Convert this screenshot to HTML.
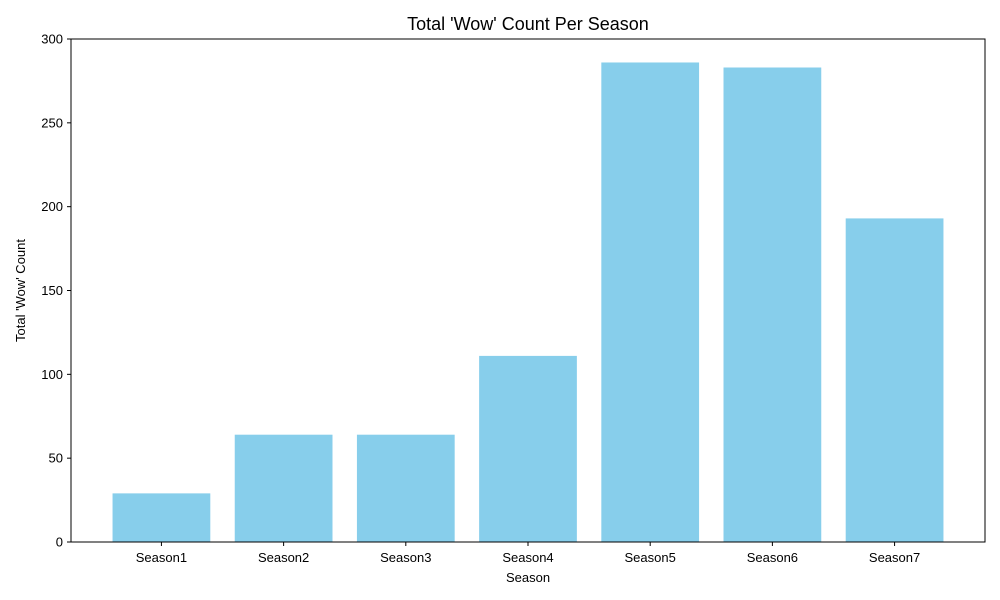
<!DOCTYPE html>
<html>
<head>
<meta charset="utf-8">
<style>
  body { margin: 0; background: #fff; }
  svg { display: block; font-family: "Liberation Sans", "DejaVu Sans", sans-serif; }
</style>
</head>
<body>
<svg id="chart" width="1000" height="600" viewBox="0 0 1000 600">
  <rect width="1000" height="600" fill="#ffffff"/>
  <text x="528" y="30" text-anchor="middle" font-size="18" fill="#000">Total 'Wow' Count Per Season</text>
  <g id="bars"></g>
  <g id="yaxis"></g>
  <g id="xaxis"></g>
  <rect x="71" y="39" width="914" height="503" fill="none" stroke="#000" stroke-width="1"/>
  <text x="528" y="582" text-anchor="middle" font-size="13" fill="#000">Season</text>
  <text x="25" y="290.5" text-anchor="middle" font-size="13" fill="#000" transform="rotate(-90 25 290.5)">Total 'Wow' Count</text>
</svg>
<script>
const categories = ["Season1","Season2","Season3","Season4","Season5","Season6","Season7"];
const values = [29, 64, 64, 111, 286, 283, 193];
const yTicks = [0, 50, 100, 150, 200, 250, 300];

const NS = "http://www.w3.org/2000/svg";
const plot = { left: 71, right: 985, top: 39, bottom: 542 };
const yMax = 300;
const xMin = -0.74, xMax = categories.length - 1 + 0.74;
function xScale(i) { return plot.left + (i - xMin) / (xMax - xMin) * (plot.right - plot.left); }
function yScale(v) { return plot.bottom - v / yMax * (plot.bottom - plot.top); }
const step = xScale(1) - xScale(0);
const barW = step * 0.8;

const bars = document.getElementById("bars");
values.forEach((v, i) => {
  const r = document.createElementNS(NS, "rect");
  r.setAttribute("x", xScale(i) - barW / 2);
  r.setAttribute("y", yScale(v));
  r.setAttribute("width", barW);
  r.setAttribute("height", yScale(0) - yScale(v));
  r.setAttribute("fill", "#87ceeb");
  
  
  bars.appendChild(r);
});

const yaxis = document.getElementById("yaxis");
yTicks.forEach(t => {
  const y = yScale(t);
  const l = document.createElementNS(NS, "line");
  l.setAttribute("x1", plot.left - 4); l.setAttribute("x2", plot.left);
  l.setAttribute("y1", y); l.setAttribute("y2", y);
  l.setAttribute("stroke", "#000");
  
  
  yaxis.appendChild(l);
  const tx = document.createElementNS(NS, "text");
  tx.setAttribute("x", plot.left - 8); tx.setAttribute("y", y + 4.5);
  tx.setAttribute("text-anchor", "end"); tx.setAttribute("font-size", "13");
  tx.textContent = t;
  
  
  yaxis.appendChild(tx);
});

const xaxis = document.getElementById("xaxis");
categories.forEach((c, i) => {
  const x = xScale(i);
  const l = document.createElementNS(NS, "line");
  l.setAttribute("x1", x); l.setAttribute("x2", x);
  l.setAttribute("y1", plot.bottom); l.setAttribute("y2", plot.bottom + 4);
  l.setAttribute("stroke", "#000");
  
  
  xaxis.appendChild(l);
  const tx = document.createElementNS(NS, "text");
  tx.setAttribute("x", x); tx.setAttribute("y", plot.bottom + 20);
  tx.setAttribute("text-anchor", "middle"); tx.setAttribute("font-size", "13");
  tx.textContent = c;
  
  
  xaxis.appendChild(tx);
});
</script>
</body>
</html>
